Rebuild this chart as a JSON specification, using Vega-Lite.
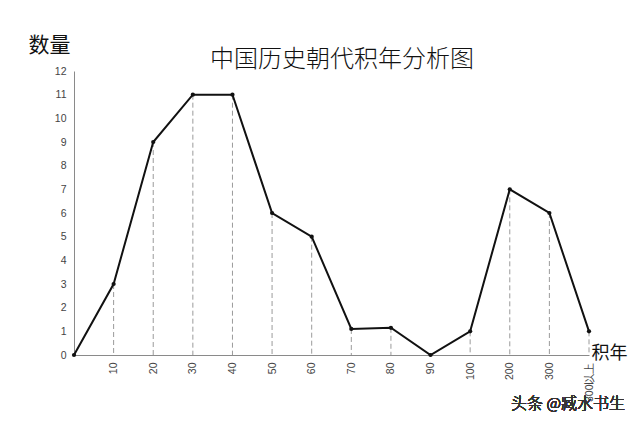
{
  "$schema": "https://vega.github.io/schema/vega-lite/v6.json",
  "width": 515,
  "height": 284,
  "autosize": {"type": "none"},
  "padding": {"left": 74, "top": 71, "right": 51, "bottom": 67},
  "background": "#ffffff",
  "title": {
    "text": "中国历史朝代积年分析图",
    "font": "Noto Sans CJK SC",
    "fontSize": 24,
    "fontWeight": 300,
    "color": "#111111",
    "anchor": "start",
    "dx": 182,
    "dy": 46,
    "offset": 8
  },
  "config": {
    "view": {"stroke": null},
    "axis": {"grid": false, "domainColor": "#8a8a8a", "domainWidth": 1, "labelColor": "#444444", "labelFont": "Liberation Sans", "labelFontSize": 10.5, "ticks": false}
  },
  "data": {
    "values": [
      {"period": "0", "count": 0},
      {"period": "10", "count": 3},
      {"period": "20", "count": 9},
      {"period": "30", "count": 11},
      {"period": "40", "count": 11},
      {"period": "50", "count": 6},
      {"period": "60", "count": 5},
      {"period": "70", "count": 1.1},
      {"period": "80", "count": 1.15},
      {"period": "90", "count": 0},
      {"period": "100", "count": 1},
      {"period": "200", "count": 7},
      {"period": "300", "count": 6},
      {"period": "300以上", "count": 1}
    ]
  },
  "encoding": {
    "x": {
      "field": "period",
      "type": "ordinal",
      "sort": null,
      "scale": {"type": "point", "padding": 0},
      "axis": {
        "labelAngle": -90,
        "labelPadding": 7,
        "labelExpr": "datum.value == '0' ? '' : datum.label",
        "title": "积年",
        "titleFont": "Noto Sans CJK SC",
        "titleFontSize": 18,
        "titleFontWeight": 400,
        "titleColor": "#111111",
        "titleAngle": 0,
        "titleX": 535,
        "titleY": -11,
        "titleAlign": "center"
      }
    },
    "y": {
      "field": "count",
      "type": "quantitative",
      "scale": {"domain": [0, 12], "nice": false},
      "axis": {
        "values": [0,1,2,3,4,5,6,7,8,9,10,11,12],
        "labelPadding": 8,
        "title": "数量",
        "titleFont": "Noto Sans CJK SC",
        "titleFontSize": 21,
        "titleFontWeight": 400,
        "titleColor": "#111111",
        "titleAngle": 0,
        "titleX": -25,
        "titleY": -16,
        "titleAlign": "center"
      }
    }
  },
  "layer": [
    {
      "mark": {"type": "rule", "color": "#9a9a9a", "strokeDash": [5, 3], "strokeWidth": 1},
      "encoding": {"y2": {"datum": 0}}
    },
    {
      "mark": {"type": "line", "color": "#111111", "strokeWidth": 2}
    },
    {
      "mark": {"type": "circle", "color": "#111111", "size": 18, "opacity": 1}
    },
    {
      "mark": {"type": "text", "font": "Noto Sans CJK SC", "fontSize": 16, "fontWeight": 300, "color": "#333333", "align": "right", "baseline": "middle", "dx": 36},
      "encoding": {
        "x": {"datum": "300以上"},
        "y": {"datum": -2.05},
        "text": {"value": "头条 @臧水书生"}
      }
    }
  ]
}
